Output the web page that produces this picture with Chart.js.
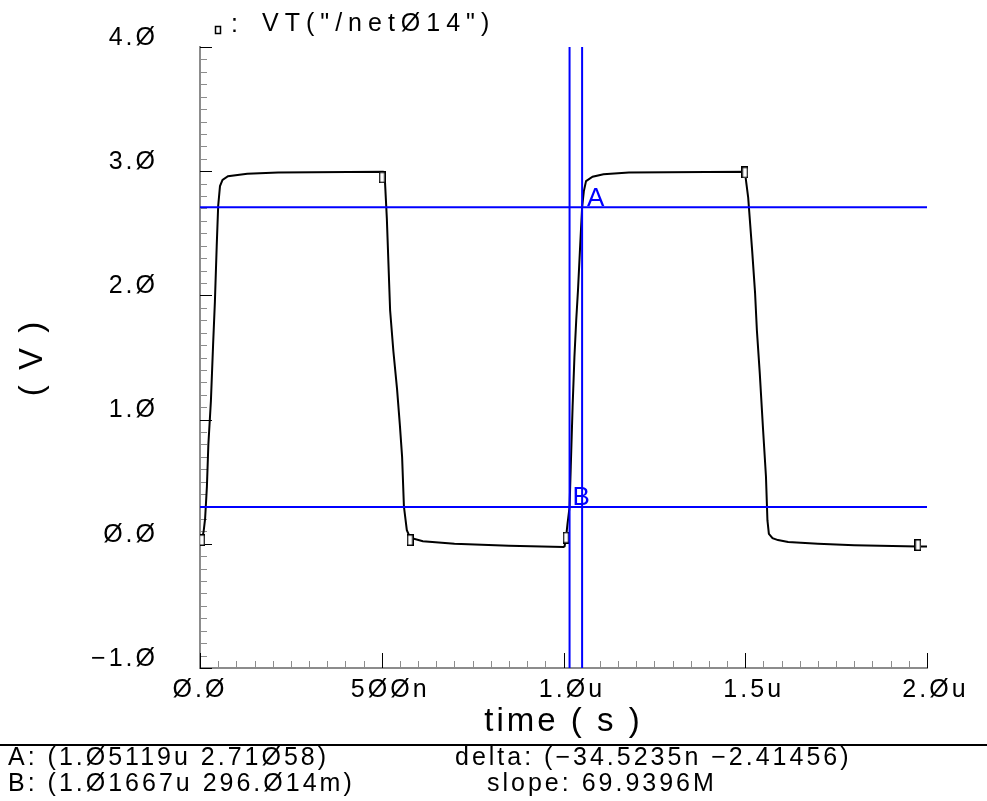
<!DOCTYPE html>
<html>
<head>
<meta charset="utf-8">
<title>VT net014</title>
<script src="https://cdn.jsdelivr.net/npm/chart.js@4.4.1/dist/chart.umd.min.js"></script>
<style>
  html, body { margin: 0; padding: 0; background: #fff; }
  canvas { display: block; }
</style>
</head>
<body>
<canvas id="wave" width="987" height="801"></canvas>
<script>
// transient of VT("/net014"): time in ns, level in V
var timeNs = [0, 5, 10, 14, 19, 23, 30, 36, 41, 46, 50, 55, 62, 77, 130, 215, 503,
  509, 514, 523, 532, 542, 550, 556, 561, 569, 578, 613, 700, 850, 1000,
  1003, 1007, 1011, 1016.67, 1020, 1025, 1030, 1035, 1040, 1045, 1051.19, 1056, 1062, 1080, 1110, 1180, 1499,
  1508, 1519, 1527, 1532, 1540, 1549, 1557, 1561, 1565, 1575, 1590, 1618, 1700, 1800, 1975, 2000];
var voltV = [-0.01, 0.03, 0.1, 0.2, 0.46, 0.8, 1.15, 1.6, 1.95, 2.4, 2.72, 2.88, 2.93, 2.96, 2.98, 2.99, 2.995,
  2.91, 2.62, 1.88, 1.55, 1.25, 0.95, 0.7, 0.3, 0.11, 0.05, 0.02, 0.0, -0.015, -0.025,
  -0.02, 0.05, 0.16, 0.296, 0.62, 1.1, 1.5, 1.8, 2.05, 2.35, 2.71, 2.84, 2.92, 2.955, 2.975, 2.99, 2.995,
  2.79, 2.36, 2.02, 1.72, 1.37, 0.92, 0.54, 0.19, 0.08, 0.045, 0.03, 0.015, 0.0, -0.012, -0.022, -0.022];

// little trace markers on the curve
var markNs = [5, 501, 578, 1007, 1499, 1975];
var markV = [0.03, 2.95, 0.03, 0.05, 2.99, -0.01];

// cursors [time ns, volts]
var cursorA = [1051.19, 2.71058];
var cursorB = [1016.67, 0.296014];

var yTickVals = [-1, 0, 1, 2, 3, 4];
var yTickText = ['−1.Ø', 'Ø.Ø', '1.Ø', '2.Ø', '3.Ø', '4.Ø'];
var xTickVals = [0, 500, 1000, 1500, 2000];
// figure space in front keeps the number itself centred on the tick
var xTickText = ['Ø.Ø', '\u20075ØØn', '\u20071.Øu', '\u20071.5u', '\u20072.Øu'];

var traceName = 'VT("/netØ14")';
var infoLeft = ['A: (1.Ø5119u 2.71Ø58)', 'B: (1.Ø1667u 296.Ø14m)'];
var infoRight = ['delta: (−34.5235n −2.41456)', 'slope: 69.9396M'];

var FONT = "'Liberation Sans', Arial, sans-serif";
var BLUE = '#0000ff';

function pts(xs, ys) {
  var out = [];
  for (var i = 0; i < xs.length; i++) out.push({x: xs[i], y: ys[i]});
  return out;
}

// marker picture: small tall hollow box
var markImg = document.createElement('canvas');
markImg.width = 7;
markImg.height = 12;
(function() {
  var c = markImg.getContext('2d');
  c.fillStyle = '#fff';
  c.fillRect(1, 1, 5, 10);
  c.strokeStyle = '#000';
  c.lineWidth = 1.5;
  c.strokeRect(0.75, 0.75, 5.5, 10.5);
})();

// tick marks drawn inward like the simulator viewer
var innerTicks = {
  id: 'innerTicks',
  beforeDatasetsDraw: function(chart) {
    var ctx = chart.ctx, a = chart.chartArea;
    var xs = chart.scales.x, ys = chart.scales.y;
    ctx.save();
    ctx.letterSpacing = '0px';
    ctx.lineWidth = 1;
    for (var k = -10; k <= 40; k++) {
      var y = Math.round(ys.getPixelForValue(k / 10)) + 0.5;
      var major = (k % 10 === 0);
      ctx.strokeStyle = major ? '#000' : '#8c8c8c';
      ctx.beginPath();
      ctx.moveTo(a.left, y);
      ctx.lineTo(a.left + (major ? 12 : 7), y);
      ctx.stroke();
    }
    for (var j = 0; j <= 40; j++) {
      var x = Math.round(xs.getPixelForValue(j * 50)) + 0.5;
      var maj = (j % 10 === 0);
      ctx.strokeStyle = maj ? '#000' : '#8c8c8c';
      ctx.beginPath();
      ctx.moveTo(x, a.bottom);
      ctx.lineTo(x, a.bottom - (maj ? 15 : 7));
      ctx.stroke();
    }
    ctx.restore();
  }
};

// spacing for the axis texts, wide like the original viewer font
var spacedText = {
  id: 'spacedText',
  beforeDraw: function(chart) { chart.ctx.letterSpacing = '3px'; },
  beforeDatasetsDraw: function(chart) { chart.ctx.letterSpacing = '0px'; }
};

var overlay = {
  id: 'overlay',
  afterDraw: function(chart) {
    var ctx = chart.ctx;
    var xs = chart.scales.x, ys = chart.scales.y;
    ctx.save();
    ctx.textBaseline = 'alphabetic';
    ctx.textAlign = 'left';

    // legend
    ctx.strokeStyle = '#000';
    ctx.lineWidth = 1.5;
    ctx.strokeRect(215.5, 26.5, 5, 7);
    ctx.fillStyle = '#000';
    ctx.font = '25px ' + FONT;
    ctx.letterSpacing = '0px';
    ctx.fillText(':', 231, 32);
    ctx.letterSpacing = '6px';
    ctx.fillText(traceName, 262, 31);

    // cursor letters
    ctx.fillStyle = BLUE;
    ctx.font = '26px ' + FONT;
    ctx.letterSpacing = '0px';
    ctx.fillText('A', xs.getPixelForValue(cursorA[0]) + 5, ys.getPixelForValue(cursorA[1]) - 1);
    ctx.fillText('B', xs.getPixelForValue(cursorB[0]) + 3, ys.getPixelForValue(cursorB[1]) - 2);

    // separator and cursor readout
    ctx.fillStyle = '#000';
    ctx.fillRect(0, 744, chart.width, 2);
    ctx.font = '25px ' + FONT;
    ctx.letterSpacing = '3px';
    ctx.fillText(infoLeft[0], 8, 765);
    ctx.fillText(infoLeft[1], 8, 791);
    ctx.fillText(infoRight[0], 455, 765);
    ctx.fillText(infoRight[1], 487, 791);
    ctx.restore();
  }
};

var blueLine = {borderColor: BLUE, borderWidth: 2, pointRadius: 0, fill: false, tension: 0};

var ctx = document.getElementById('wave');
var myWave = new Chart(ctx, {
  type: 'line',
  data: {
    datasets: [
      Object.assign({label: 'A time', data: [{x: cursorA[0], y: -1}, {x: cursorA[0], y: 4}]}, blueLine),
      Object.assign({label: 'B time', data: [{x: cursorB[0], y: -1}, {x: cursorB[0], y: 4}]}, blueLine),
      Object.assign({label: 'A level', data: [{x: 0, y: cursorA[1]}, {x: 2000, y: cursorA[1]}]}, blueLine),
      Object.assign({label: 'B level', data: [{x: 0, y: cursorB[1]}, {x: 2000, y: cursorB[1]}]}, blueLine),
      {
        label: 'markers',
        data: pts(markNs, markV),
        showLine: false,
        pointStyle: markImg,
        pointRadius: 4
      },
      {
        label: traceName,
        data: pts(timeNs, voltV),
        borderColor: '#000',
        borderWidth: 2,
        pointRadius: 0,
        tension: 0,
        fill: false
      }
    ]
  },
  options: {
    responsive: false,
    animation: false,
    events: [],
    layout: { padding: { left: 0, top: 47, right: 60, bottom: 56 } },
    plugins: {
      legend: { display: false },
      tooltip: { enabled: false }
    },
    scales: {
      x: {
        type: 'linear',
        min: 0,
        max: 2000,
        afterFit: function(s) { s.height = 77; },
        grid: { display: false, drawTicks: false },
        border: { display: true, color: '#8c8c8c', width: 2 },
        ticks: {
          stepSize: 500,
          autoSkip: false,
          maxRotation: 0,
          padding: 7,
          color: '#000',
          font: { family: FONT, size: 25 },
          callback: function(v) {
            var i = xTickVals.indexOf(v);
            return i < 0 ? '' : xTickText[i];
          }
        },
        title: {
          display: true,
          text: 'time ( s )',
          color: '#000',
          font: { family: FONT, size: 33 },
          padding: { top: 0, bottom: 3 }
        }
      },
      y: {
        min: -1,
        max: 4,
        afterFit: function(s) { s.width = 200; },
        // invisible tick length only pushes the labels away from the axis
        grid: { display: true, drawOnChartArea: false, drawTicks: true, tickLength: 42, color: 'rgba(0,0,0,0)' },
        border: { display: true, color: '#8c8c8c', width: 2 },
        ticks: {
          stepSize: 1,
          padding: 0,
          labelOffset: -9,
          color: '#000',
          font: { family: FONT, size: 25 },
          callback: function(v) {
            var i = yTickVals.indexOf(v);
            return i < 0 ? '' : yTickText[i];
          }
        },
        title: {
          display: true,
          text: '( V )',
          color: '#000',
          font: { family: FONT, size: 33 },
          padding: { top: 13, bottom: 0 }
        }
      }
    }
  },
  plugins: [spacedText, innerTicks, overlay]
});
</script>
</body>
</html>
